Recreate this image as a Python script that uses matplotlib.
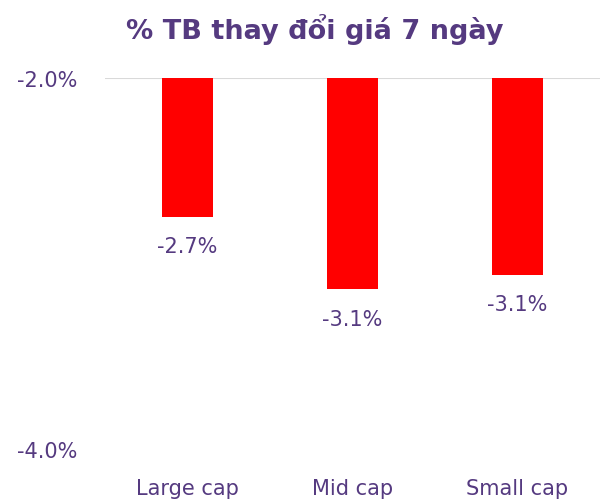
import matplotlib
matplotlib.use("Agg")
import matplotlib.pyplot as plt

categories = ["Large cap", "Mid cap", "Small cap"]
values = [-2.75, -3.14, -3.06]
labels = ["-2.7%", "-3.1%", "-3.1%"]
yticks = [-2.0, -4.0]
ytick_labels = ["-2.0%", "-4.0%"]

purple = "#553A80"
plt.rcParams['font.family'] = ['DejaVu Sans']

fig = plt.figure(figsize=(6, 5.02), dpi=100)
ax = fig.add_axes([0.175, 0.1036, 0.825, 0.739])

base = -2.0
x = range(len(categories))
ax.bar(x, [v - base for v in values], bottom=base, width=0.315, color="#FF0000", zorder=3)

for i, (v, lab) in enumerate(zip(values, labels)):
    ax.annotate(lab, (i, v), xytext=(0, -21), textcoords="offset points",
                ha="center", va="center", fontsize=15, color=purple)

ax.set_xlim(-0.5, 2.5)
ax.set_ylim(-4.0, -2.0)
ax.set_yticks(yticks)
ax.set_yticklabels(ytick_labels, fontsize=15, color=purple)
ax.set_xticks(list(x))
ax.set_xticklabels(categories, fontsize=15, color=purple)
ax.tick_params(axis="both", length=0)
ax.tick_params(axis="x", pad=21)
ax.tick_params(axis="y", pad=20)
for s in ax.spines.values():
    s.set_visible(False)
ax.axhline(-2.0, color="#D9D9D9", linewidth=1.5, zorder=2)

fig.suptitle("% TB thay đổi giá 7 ngày", x=0.525, y=0.972, fontsize=19.5,
             fontweight="bold", color=purple)

fig.savefig("out.png", dpi=100)
